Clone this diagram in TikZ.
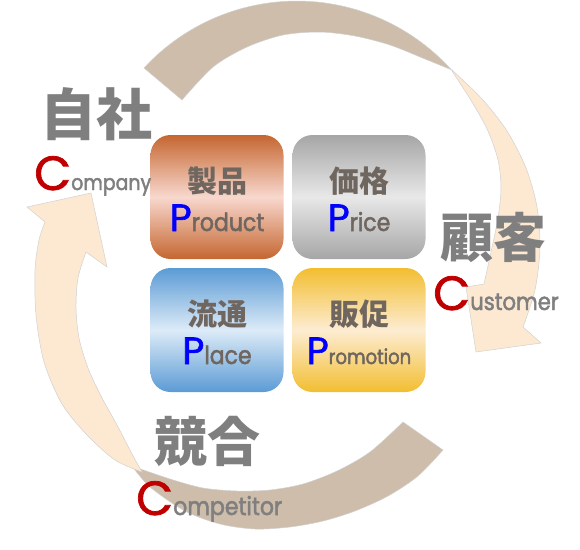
\documentclass[tikz,border=0pt]{standalone}
\usepackage{fontspec}
\setmainfont{Poppins}
\newfontfamily\enfont{Poppins}[FakeStretch=0.88,FakeBold=2]
\newfontfamily\capfont{Poppins}[FakeBold=1.5]
\newfontfamily\jpfont{Noto Sans CJK JP}
\usetikzlibrary{positioning}
\definecolor{ringtan}{RGB}{205,189,170}
\definecolor{ringpeach}{RGB}{253,233,209}
\definecolor{labelgray}{RGB}{127,127,127}
\definecolor{boxtext}{RGB}{112,102,96}
\definecolor{cred}{RGB}{192,0,0}
\definecolor{pblue}{RGB}{0,0,255}
\definecolor{dark-product}{RGB}{197,102,48}
\definecolor{light-product}{RGB}{248,216,206}
\definecolor{dark-price}{RGB}{166,166,166}
\definecolor{light-price}{RGB}{232,232,232}
\definecolor{dark-place}{RGB}{91,155,213}
\definecolor{light-place}{RGB}{221,235,247}
\definecolor{dark-promotion}{RGB}{242,190,48}
\definecolor{light-promotion}{RGB}{253,236,210}
\tikzset{
  ring/.style={draw=black!18,line width=0.5pt},
  ring band/.style={ring,fill=ringtan},
  ring arrow/.style={ring,fill=ringpeach},
  box/.style={rounded corners=20pt,minimum width=133pt,minimum height=124pt,inner sep=0pt},
  box jp/.style={font=\jpfont\bfseries\fontsize{30}{30}\selectfont,text=boxtext,inner sep=0pt},
  box en/.style={font=\enfont,text=boxtext,inner sep=0pt,anchor=base},
  side jp/.style={font=\jpfont\bfseries\fontsize{53}{53}\selectfont,text=labelgray,inner sep=0pt},
  side en/.style={text=labelgray,inner sep=0pt,anchor=base west}
}
\newcommand\bigC{{\capfont\color{cred}\fontsize{48}{48}\selectfont C}}
\newcommand\bigP{{\capfont\color{pblue}\fontsize{38}{38}\selectfont P}}

\begin{document}
\begin{tikzpicture}[x=1pt,y=-1pt]
    \useasboundingbox (0,0) rectangle (580,549);

    % ------- ring -------
    \path[ring band] (144,68) arc[start angle=-137.3,end angle=-41.9,radius=208]
        -- plot[smooth] coordinates {(452,70) (425,59) (390,45) (355,36) (320,32) (283,35) (247,47) (213,67) (182,100)} -- cycle;
    \path[ring arrow] plot[smooth] coordinates {(452,70) (482,99) (507,131) (526,168) (537,207) (540,248) (535,290) (523,327)}
        -- (541,343) -- (476,352) -- (466,287) -- (484,284)
        -- plot[smooth] coordinates {(484,284) (491,252) (498,218) (501,188) (498,160) (488,131) (472,102) (452,71)} -- cycle;
    \path[ring band] plot[smooth] coordinates {(403,422) (370,452) (337,471) (303,484) (270,490) (237,491) (203,488) (170,479) (132,466)}
        -- plot[smooth] coordinates {(132,466) (150,487) (185,511) (220,524) (255,529) (290,527) (323,521) (355,511) (388,496) (418,476) (443,450)} -- cycle;
    \path[ring arrow] plot[smooth] coordinates {(142,472) (115,460) (87,435) (62,404) (44,362) (36,315) (35,270) (39,240) (45,222)}
        -- (27,207) -- (91,193) -- (107,267) -- (86,252)
        -- plot[smooth] coordinates {(86,252) (78,278) (76,308) (79,338) (88,368) (101,396) (117,425) (131,452) (142,472)} -- cycle;

    % ------- boxes -------
    \foreach \name/\x/\y/\kanji/\word/\size in {product/217/197/製品/roduct/25, price/359/197/価格/rice/25,
                                                 place/217/330/流通/lace/25, promotion/359/330/販促/romotion/20.5} {
        \node[box,top color=dark-\name,bottom color=dark-\name,middle color=light-\name] (\name) at (\x,\y) {};
        \node[box jp] (\name-jp) at ([yshift=16pt]\name.center) {\kanji};
        \node[box en] (\name-en) at ([yshift=-34pt]\name.center) {\bigP\fontsize{\size}{\size}\selectfont\word};
    }

    % ------- labels -------
    \node[side jp,font=\jpfont\bfseries\fontsize{56}{56}\selectfont] (self-jp) at (96,114) {自社};
    \node[side en,font=\enfont\fontsize{21.5}{21.5}\selectfont] (self-en) at (34,190) {\bigC ompany};
    \node[side jp] (customer-jp) at (493,237) {顧客};
    \node[side en,font=\enfont\fontsize{24}{24}\selectfont] (customer-en) at (433,310) {\bigC ustomer};
    \node[side jp] (rival-jp) at (207,441) {競合};
    \node[side en,font=\enfont\fontsize{25}{25}\selectfont] (rival-en) at (136,515) {\bigC ompetitor};
\end{tikzpicture}
\end{document}
